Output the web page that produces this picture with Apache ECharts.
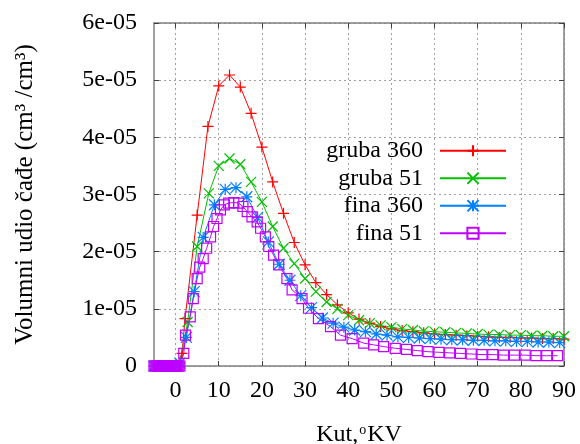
<!DOCTYPE html>
<html><head><meta charset="utf-8">
<script src="https://cdn.jsdelivr.net/npm/echarts@6/dist/echarts.min.js"></script>
<style>html,body{margin:0;padding:0;background:#fff}#c{width:580px;height:444px}</style>
</head><body><div id="c"></div>
<script>
// values in units of 1e-5 cm3/cm3
const SCALE = 1e-5;
const xTicks = [0,10,20,30,40,50,60,70,80,90];
const yTicks = [0,1e-5,2e-5,3e-5,4e-5,5e-5,6e-5];

const seriesNames = ['gruba 360','gruba 51','fina 360','fina 51'];

const xGruba360 = [-5,-4,-3,-2,-1,0,1.5,2.2,5,7.5,10,12.5,15,17.5,20,22.5,25,27.5,30,32.5,35,37.5,40,42.5,45,47.5,50,52.5,55,57.5,60,62.5,65,67.5,70,72.5,75,77.5,80,82.5,85,87.5,90];
const yGruba360 = [0,0,0,0,0,0,0.22,0.83,2.64,4.19,4.9,5.09,4.88,4.42,3.83,3.22,2.67,2.16,1.77,1.46,1.25,1.07,0.93,0.82,0.75,0.69,0.65,0.62,0.6,0.58,0.56,0.55,0.54,0.53,0.52,0.51,0.5,0.5,0.49,0.49,0.48,0.48,0.47];

const xGruba51 = [-5,-4,-3,-2,-1,0,1,2.8,5,7.7,10,12.5,15,17.5,20,22.5,25,27.5,30,32.5,35,37.5,40,42.5,45,47.5,50,52.5,55,57.5,60,62.5,65,67.5,70,72.5,75,77.5,80,82.5,85,87.5,90];
const yGruba51 = [0,0,0,0,0,0,0.05,0.77,2.09,3.02,3.5,3.63,3.53,3.22,2.87,2.44,2.06,1.79,1.53,1.3,1.12,1.0,0.89,0.8,0.75,0.71,0.68,0.65,0.63,0.61,0.6,0.59,0.58,0.57,0.56,0.55,0.55,0.54,0.54,0.53,0.53,0.52,0.52];

const xFina360 = [-5,-4,-3,-2,-1,0,1,2.5,4.3,6.4,9,11.5,14,16.5,19,21.5,24,26.5,29,31.5,34,36.5,39,41.5,44,46.5,49,51.5,54,56.5,59,61.5,64,66.5,69,71.5,74,76.5,79,81.5,84,86.5,89];
const yFina360 = [0,0,0,0,0,0,0.05,0.5,1.3,2.25,2.82,3.09,3.12,2.96,2.6,2.17,1.78,1.5,1.23,1.02,0.84,0.75,0.68,0.63,0.6,0.56,0.54,0.51,0.5,0.49,0.48,0.47,0.46,0.46,0.45,0.45,0.44,0.44,0.43,0.43,0.42,0.42,0.41];

const xFina51 = [-5,-4.75,-4.5,-4.25,-4,-3.75,-3.5,-3.25,-3,-2.75,-2.5,-2.25,-2,-1.75,-1.5,-1.25,-1,-0.75,-0.5,-0.25,0,0.25,0.5,0.75,1,1.9,2.3,3.4,4.1,5.0,5.6,6.4,7.2,8.1,8.8,9.6,10.4,11.3,12.3,13.5,14.6,15.6,16.6,17.7,18.9,19.7,20.8,21.6,22.7,23.9,25.8,27,29.3,30.8,33.1,35.9,38.2,40.9,43.6,45.9,48.2,50.9,53.5,56,58.5,61,63.5,66,68.5,71,73.5,76,78.5,81,83.5,86,88.5];
const yFina51 = [0,0,0,0,0,0,0,0,0,0,0,0,0,0,0,0,0,0,0,0,0,0,0,0,0,0.22,0.54,0.86,1.18,1.53,1.73,1.88,2.06,2.26,2.44,2.58,2.73,2.82,2.85,2.86,2.85,2.79,2.7,2.61,2.52,2.41,2.26,2.09,1.94,1.77,1.53,1.33,1.18,1.01,0.83,0.69,0.54,0.48,0.4,0.37,0.34,0.31,0.29,0.27,0.25,0.24,0.23,0.22,0.21,0.2,0.2,0.19,0.19,0.19,0.18,0.18,0.18];

const FONT = '"Liberation Serif", "Times New Roman", serif';
const colors = ['#ff0000','#00c000','#0080ff','#c000ff'];
const symbols = [
  'path://M5,0L5,10M0,5L10,5',
  'path://M0,0L10,10M0,10L10,0',
  'path://M0,0L10,10M0,10L10,0M5,0L5,10M0,5L10,5',
  'rect'
];
const symSizes = [11, 10, 11, 10];
const xs = [xGruba360, xGruba51, xFina360, xFina51];
const ys = [yGruba360, yGruba51, yFina360, yFina51];

function yFmt(v){
  if (Math.abs(v) < 1e-12) return '0';
  const e = Math.floor(Math.log10(v) + 1e-9);
  const m = Math.round(v / Math.pow(10, e));
  const ae = Math.abs(e);
  return m + 'e' + (e < 0 ? '-' : '+') + (ae < 10 ? '0' + ae : '' + ae);
}

const series = seriesNames.map((n, i) => ({
  name: n,
  type: 'line',
  data: xs[i].map((x, j) => [x, ys[i][j] * SCALE]),
  symbol: symbols[i],
  symbolSize: symSizes[i],
  showAllSymbol: true,
  lineStyle: { color: colors[i], width: 1 },
  itemStyle: { color: 'rgba(0,0,0,0)', borderColor: colors[i], borderWidth: 1.2 },
  emphasis: { disabled: true },
  animation: false
}));

const gridLine = { show: true, lineStyle: { color: '#a0a0a0', type: [2, 3], width: 1 } };
const frameLine = { show: true, onZero: false, lineStyle: { color: '#808080', width: 1.5 } };

const option = {
  animation: false,
  backgroundColor: '#fff',
  grid: { left: 154, right: 16, top: 23, bottom: 78, containLabel: false, outerBoundsMode: 'none' },
  legend: {
    orient: 'vertical',
    align: 'right',
    right: 68,
    top: 132,
    itemWidth: 66,
    itemHeight: 14,
    itemGap: 0,
    data: seriesNames,
    textStyle: { fontFamily: FONT, fontSize: 24, color: '#000', lineHeight: 27.5, padding: [0, 12, 0, 0] }
  },
  xAxis: [{
    type: 'value', min: -5, max: 90, position: 'bottom',
    axisLine: frameLine,
    axisTick: { show: true, inside: true, length: 5, customValues: xTicks, lineStyle: { color: '#404040' } },
    axisLabel: { customValues: xTicks, fontFamily: FONT, fontSize: 24, color: '#000', margin: 13 },
    splitLine: gridLine,
    name: '{t|Kut,}{s|o}{t|KV}',
    nameLocation: 'middle', nameGap: 57,
    nameTextStyle: { fontFamily: FONT, fontSize: 24, color: '#000',
      rich: { t: { fontFamily: FONT, fontSize: 24, color: '#000' }, s: { fontFamily: FONT, fontSize: 14, color: '#000', verticalAlign: 'top', padding: [0, 1, 8, 1] } } }
  }, {
    type: 'value', min: -5, max: 90, position: 'top',
    axisLine: frameLine,
    axisTick: { show: true, inside: true, length: 5, customValues: xTicks, lineStyle: { color: '#404040' } },
    axisLabel: { show: false },
    splitLine: { show: false }
  }],
  yAxis: [{
    type: 'value', min: 0, max: 6e-5, interval: 1e-5, position: 'left',
    axisLine: frameLine,
    axisTick: { show: true, inside: true, length: 5, lineStyle: { color: '#404040' } },
    axisLabel: { formatter: yFmt, fontFamily: FONT, fontSize: 24, color: '#000', margin: 17 },
    splitLine: gridLine,
    name: 'Volumni udio čađe (cm³ /cm³)',
    nameLocation: 'middle', nameGap: 116,
    nameTextStyle: { fontFamily: FONT, fontSize: 25, color: '#000' }
  }, {
    type: 'value', min: 0, max: 6e-5, interval: 1e-5, position: 'right',
    axisLine: frameLine,
    axisTick: { show: true, inside: true, length: 5, lineStyle: { color: '#404040' } },
    axisLabel: { show: false },
    splitLine: { show: false }
  }],
  series: series
};

const chart = echarts.init(document.getElementById('c'), null, { renderer: 'canvas' });
chart.setOption(option);
</script>
</body></html>
